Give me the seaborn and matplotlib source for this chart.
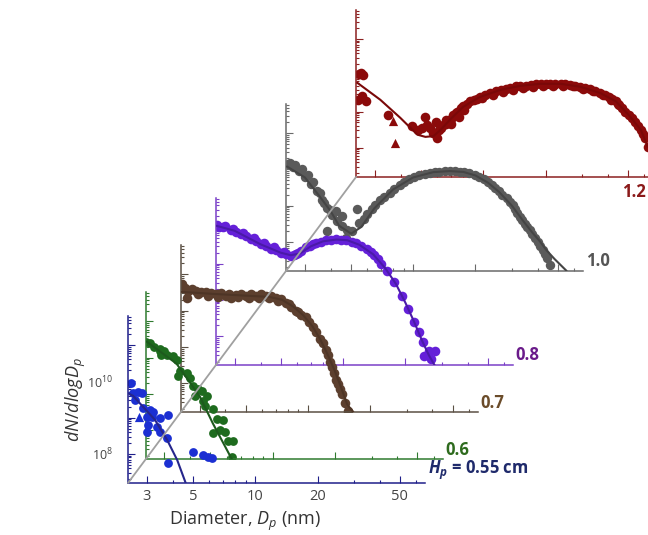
import numpy as np
import seaborn as sns
import matplotlib.pyplot as plt
from matplotlib.lines import Line2D
from matplotlib.ticker import LogLocator, FixedLocator, FuncFormatter, NullFormatter

# plate heights (cm), front to back
hp = [0.55, 0.6, 0.7, 0.8, 1.0, 1.2]
hp_labels = ['= 0.55 cm', '0.6', '0.7', '0.8', '1.0', '1.2']

# diameter (nm) and dN/dlogDp (cm^-3) for each plate height
d_055 = [2.50, 2.57, 2.71, 2.84, 2.64, 2.87, 3.10, 3.21, 3.00, 3.18, 3.47, 3.80, 3.04, 3.36, 3.00,
         3.47, 3.76, 3.80, 5.02, 5.62, 5.94, 6.20]
n_055 = [8.9e9, 4.8e9, 5.1e9, 4.8e9, 3.1e9, 1.9e9, 1.6e9, 1.4e9, 1.05e9, 1.05e9, 9.8e8, 1.2e9, 6.3e8,
         5.5e8, 4.0e8, 4.0e8, 2.8e8, 5.6e7, 1.1e8, 9.3e7, 8.3e7, 7.8e7]
tri_d_055 = [2.75]
tri_n_055 = [1.05e9]
fit_d_055 = [2.45, 2.57, 3.28, 3.76, 4.20, 4.70]
fit_n_055 = [4.6e9, 4.0e9, 8.7e8, 2.4e8, 6.8e7, 1.2e7]

d_06 = [2.44, 2.54, 2.68, 2.84, 3.00, 2.90, 3.10, 3.28, 3.43, 2.84, 3.55, 3.47, 3.84, 3.97, 4.11, 4.34,
        4.54, 4.80, 4.20, 4.60, 5.14, 4.70, 5.37, 5.74, 5.14, 5.55, 5.88, 6.08, 6.42, 6.35]
n_06 = [2.8e10, 2.5e10, 2.0e10, 1.8e10, 1.5e10, 1.2e10, 1.2e10, 1.1e10, 8.5e9, 1.5e10, 4.2e9, 3.2e9,
        3.7e9, 2.7e9, 1.7e9, 1.4e9, 1.2e9, 9.1e8, 9.1e8, 6.3e8, 4.0e8, 4.6e8, 2.1e8, 1.9e8, 8.3e7,
        1.0e8, 9.3e7, 5.0e7, 5.0e7, 1.9e7]
fit_d_06 = [2.46, 3.43, 4.44, 5.14, 6.35]
fit_n_06 = [2.8e10, 6.9e9, 8.7e8, 1.55e8, 1.6e7]

d_07 = [2.46, 2.54, 2.62, 2.65, 2.75, 2.87, 2.95, 3.05, 3.21, 3.30, 3.40, 3.59, 3.70, 3.80, 4.02,
        4.15, 4.25, 4.49, 4.62, 4.75, 5.02, 5.20, 5.31, 5.62, 5.80, 5.94, 6.28, 6.50, 6.64, 7.02,
        7.20, 7.42, 7.85, 8.10, 8.30, 8.77, 9.00, 9.27, 9.80, 10.1, 10.6, 11.0, 11.4, 11.8, 12.2,
        12.5, 12.8, 13.1, 13.4, 13.7, 14.0, 14.3, 14.6, 15.1, 15.6]
n_07 = [5.3e10, 4.2e10, 2.3e10, 3.4e10, 3.9e10, 3.6e10, 2.9e10, 3.3e10, 3.2e10, 2.6e10, 3.1e10,
        2.8e10, 2.4e10, 3.0e10, 2.6e10, 2.9e10, 2.3e10, 2.7e10, 2.4e10, 2.9e10, 2.6e10, 2.3e10,
        2.8e10, 2.6e10, 2.3e10, 2.8e10, 2.5e10, 2.2e10, 2.6e10, 2.2e10, 1.9e10, 2.1e10, 1.6e10,
        1.5e10, 1.3e10, 1.0e10, 9.0e9, 7.5e9, 6.6e9, 4.8e9, 3.5e9, 2.6e9, 1.7e9, 1.3e9, 8.1e8,
        6.0e8, 3.8e8, 2.8e8, 1.9e8, 1.2e8, 9.3e7, 7.0e7, 5.0e7, 2.8e7, 1.7e7]
fit_d_07 = [2.45, 3.5, 5.0, 6.5, 7.5, 8.5, 9.5, 10.5, 11.5, 12.5, 13.5, 14.5, 15.5, 16.6]
fit_n_07 = [3.3e10, 2.9e10, 2.6e10, 2.4e10, 2.0e10, 1.3e10, 7.5e9, 3.8e9, 1.6e9, 6.0e8, 2.2e8,
            7.5e7, 2.6e7, 1.6e7]

d_08 = [2.46, 2.52, 2.62, 2.70, 2.87, 2.95, 3.05, 3.21, 3.30, 3.40, 3.59, 3.70, 3.80, 4.02, 4.15,
        4.25, 4.49, 4.62, 4.75, 5.02, 5.20, 5.31, 5.62, 5.80, 5.94, 6.08, 6.28, 6.64, 6.94, 7.20,
        7.42, 7.85, 8.30, 8.77, 9.27, 9.80, 10.4, 11.0, 11.6, 12.2, 13.0, 13.6, 14.2, 14.8, 15.3,
        16.4, 17.7, 19.2, 20.7, 22.1, 23.4, 24.3, 25.9, 26.5, 24.5, 27.7]
n_08 = [1.15e11, 1.05e11, 1.0e11, 1.1e11, 8.3e10, 9.0e10, 7.5e10, 6.5e10, 7.0e10, 5.8e10, 4.7e10,
        5.0e10, 4.2e10, 3.4e10, 3.7e10, 3.1e10, 2.6e10, 2.8e10, 2.3e10, 2.0e10, 2.1e10, 1.8e10,
        1.6e10, 1.7e10, 1.8e10, 1.9e10, 2.2e10, 2.8e10, 3.1e10, 3.4e10, 3.6e10, 4.0e10, 4.4e10,
        4.6e10, 4.7e10, 4.6e10, 4.4e10, 4.0e10, 3.6e10, 3.1e10, 2.6e10, 2.1e10, 1.7e10, 1.3e10,
        1.0e10, 6.2e9, 3.1e9, 1.25e9, 5.5e8, 2.4e8, 1.3e8, 6.8e7, 3.9e7, 2.3e7, 2.8e7, 3.9e7]
fit_d_08 = [2.45, 3.0, 4.0, 5.0, 5.6, 6.2, 7.0, 8.0, 9.3, 10.5, 12, 14, 16, 18, 20, 22, 24, 26, 27.7]
fit_n_08 = [1.1e11, 8e10, 3.4e10, 2.0e10, 1.7e10, 1.9e10, 3.0e10, 4.1e10, 4.6e10, 4.4e10, 3.3e10,
            1.8e10, 7.5e9, 2.8e9, 8.5e8, 2.6e8, 8.0e7, 3.0e7, 1.6e7]

d_10 = [2.49, 2.55, 2.62, 2.70, 2.81, 2.90, 3.01, 3.10, 3.21, 3.30, 3.43, 3.55, 3.63, 3.72, 3.84,
        3.84, 3.95, 4.06, 4.25, 4.30, 4.54, 4.54, 4.75, 4.80, 5.07, 5.37, 5.50, 5.82, 6.00, 6.30,
        6.57, 6.90, 7.27, 7.70, 8.12, 8.60, 9.07, 9.60, 10.1, 10.7, 11.4, 12.0, 12.7, 13.4, 14.2,
        15.0, 15.9, 16.8, 17.7, 18.7, 19.8, 20.9, 22.1, 23.0, 24.0, 24.9, 25.9, 27.0, 28.3, 29.3,
        30.3, 31.1, 31.9, 32.8, 33.7, 34.6, 35.6, 36.6, 37.7, 38.8, 39.9, 41.1, 42.3, 43.2, 44.1,
        46.0]
n_10 = [1.4e10, 1.5e10, 1.2e10, 1.3e10, 8.9e9, 1.0e10, 6.2e9, 7.0e9, 4.0e9, 4.6e9, 2.5e9, 2.2e9,
        1.4e9, 1.2e9, 8.7e8, 2.0e8, 7.5e8, 5.5e8, 7.1e8, 3.8e8, 2.8e8, 5.2e8, 1.3e8, 2.1e8, 2.0e8,
        8.1e8, 3.3e8, 4.3e8, 5.9e8, 8.0e8, 1.05e9, 1.4e9, 1.7e9, 2.3e9, 2.9e9, 3.7e9, 4.5e9, 5.4e9,
        6.2e9, 6.8e9, 7.4e9, 8.0e9, 8.5e9, 8.7e9, 8.9e9, 9.0e9, 8.9e9, 8.7e9, 8.5e9, 7.8e9, 6.9e9,
        6.2e9, 5.4e9, 4.5e9, 3.7e9, 3.1e9, 2.5e9, 2.0e9, 1.6e9, 1.3e9, 1.05e9, 8.0e8, 6.3e8, 5.0e8,
        4.0e8, 3.2e8, 2.6e8, 2.1e8, 1.7e8, 1.3e8, 1.0e8, 7.8e7, 6.0e7, 4.6e7, 3.6e7, 2.3e7]
fit_d_10 = [2.46, 3.0, 3.51, 4.0, 4.39, 5.02, 5.62, 6.5, 8.0, 10.0, 12.5, 15.0, 17.5, 20.0, 23.0,
            26.0, 30.0, 34.0, 37.7, 40.8, 44.0, 48.2, 55.1]
fit_n_10 = [1.2e10, 6.0e9, 1.9e9, 7.0e8, 2.8e8, 1.7e8, 2.6e8, 8.5e8, 2.8e9, 6.0e9, 8.4e9, 9.0e9,
            8.5e9, 6.8e9, 4.3e9, 2.4e9, 1.0e9, 3.8e8, 1.8e8, 1.07e8, 6.0e7, 3.4e7, 1.6e7]

d_12 = [2.51, 2.62, 2.56, 2.48, 2.59, 2.71, 3.47, 4.54, 4.84, 5.25, 5.37, 5.55, 5.74, 5.99, 5.07,
        5.90, 6.10, 6.21, 6.40, 6.57, 6.75, 6.94, 7.10, 7.34, 7.50, 7.76, 8.00, 8.30, 8.60, 8.97,
        9.30, 9.60, 10.2, 10.8, 11.5, 12.2, 12.8, 13.5, 14.3, 15.1, 16.0, 16.9, 17.9, 18.9, 20.0,
        21.1, 22.3, 23.6, 24.9, 26.3, 27.8, 29.4, 31.1, 32.9, 34.8, 36.8, 38.6, 40.4, 42.0, 43.7,
        45.3, 46.9, 48.6, 50.3, 52.1, 53.9, 55.8, 57.7, 59.0, 60.3, 62.2, 7.0, 7.6, 8.1, 6.6,
        9.9, 11.1, 12.5, 13.9, 15.5, 17.4, 19.4, 21.7, 24.2, 27.0, 30.2, 33.8, 37.7, 41.2, 44.5]
n_12 = [1.1e10, 1.0e10, 1.15e10, 2.1e9, 2.7e9, 1.9e9, 8.1e8, 4.0e8, 3.1e8, 7.1e8, 4.3e8, 3.5e8,
        2.6e8, 1.9e8, 3.5e8, 5.0e8, 3.0e8, 3.5e8, 4.2e8, 4.6e8, 5.5e8, 6.3e8, 8.0e8, 9.1e8, 1.0e9,
        1.25e9, 1.4e9, 1.6e9, 1.9e9, 2.1e9, 2.2e9, 2.5e9, 2.9e9, 3.2e9, 3.7e9, 4.0e9, 4.3e9, 4.5e9,
        4.9e9, 5.1e9, 5.2e9, 5.4e9, 5.6e9, 5.8e9, 5.8e9, 5.8e9, 5.9e9, 5.8e9, 5.6e9, 5.4e9, 5.1e9,
        4.8e9, 4.5e9, 4.2e9, 3.7e9, 3.2e9, 2.9e9, 2.5e9, 2.2e9, 1.9e9, 1.55e9, 1.25e9, 1.0e9,
        8.1e8, 6.5e8, 5.2e8, 4.0e8, 3.1e8, 2.4e8, 1.9e8, 1.07e8, 4.5e8, 7.0e8, 1.1e9, 6.0e8,
        2.3e9, 2.8e9, 3.5e9, 4.0e9, 4.4e9, 4.8e9, 5.0e9, 5.1e9, 5.2e9, 4.9e9, 4.3e9, 3.6e9,
        2.8e9, 2.1e9, 1.6e9]
tri_d_12 = [3.67, 3.76]
tri_n_12 = [5.5e8, 1.4e8]
fit_d_12 = [2.46, 3.18, 3.97, 4.8, 5.25, 5.74, 6.21, 7.0, 8.0, 9.6, 12.2, 15.1, 18.9, 23.6, 29.4,
            36.8, 43.7, 50.3, 57.7, 62.2]
fit_n_12 = [6.2e9, 2.1e9, 6.7e8, 2.3e8, 2.0e8, 2.1e8, 3.1e8, 6.5e8, 1.35e9, 2.5e9, 4.0e9, 5.1e9,
            5.8e9, 5.8e9, 4.8e9, 3.2e9, 1.9e9, 8.1e8, 3.1e8, 1.07e8]

point_colors = ['#1b2fd2', '#1e6b1e', '#5c3f2e', '#6420d8', '#5a5a5a', '#8b0a0a']
line_colors = ['#26268c', '#1d5a1d', '#4e3526', '#4a1aa8', '#454545', '#7a0808']
spine_colors = ['#1f1f8a', '#2f7a2f', '#5b5044', '#7a40c8', '#6a6a6a', '#8b2020']
label_colors = ['#1f2a6b', '#2e6b1e', '#6b4c2a', '#6a1b8a', '#555555', '#8b1a1a']
point_sizes = [40, 40, 48, 48, 46, 48]

points_d = [d_055, d_06, d_07, d_08, d_10, d_12]
points_n = [n_055, n_06, n_07, n_08, n_10, n_12]
fits_d = [fit_d_055, fit_d_06, fit_d_07, fit_d_08, fit_d_10, fit_d_12]
fits_n = [fit_n_055, fit_n_06, fit_n_07, fit_n_08, fit_n_10, fit_n_12]
tris = {0: (tri_d_055, tri_n_055), 5: (tri_d_12, tri_n_12)}

sns.set_style("white")
plt.rcParams['font.family'] = ['Open Sans', 'DejaVu Sans']
plt.rcParams['mathtext.fontset'] = 'custom'
plt.rcParams['mathtext.rm'] = 'Open Sans'
plt.rcParams['mathtext.it'] = 'Open Sans:italic'
plt.rcParams['mathtext.bf'] = 'Open Sans:bold'
has_bfit = 'mathtext.bfit' in plt.rcParams
if has_bfit:
    plt.rcParams['mathtext.bfit'] = 'Open Sans:italic:bold'

FW, FH = 648, 535
fig = plt.figure(figsize=(FW / 100, FH / 100), dpi=100)

# waterfall layout: each layer shifted along a depth axis proportional to Hp
x0, y0 = 128, 483
sx, sy = 351, 471
w, h = 297, 167


def origin(height):
    return x0 + sx * (height - hp[0]), y0 - sy * (height - hp[0])


for i in reversed(range(len(hp))):
    ox, oy = origin(hp[i])
    ax = fig.add_axes([ox / FW, 1 - oy / FH, w / FW, h / FH])
    ax.patch.set_alpha(0)
    ax.set_xscale('log')
    ax.set_yscale('log')

    sns.scatterplot(x=points_d[i], y=points_n[i], ax=ax, color=point_colors[i], s=point_sizes[i],
                    linewidth=0, zorder=2)
    if i in tris:
        sns.scatterplot(x=tris[i][0], y=tris[i][1], ax=ax, color=point_colors[i], s=44,
                        marker='^', linewidth=0, zorder=2)
    sns.lineplot(x=fits_d[i], y=fits_n[i], ax=ax, color=line_colors[i], lw=1.5,
                 sort=False, estimator=None, zorder=3)

    ax.set_xlim(2.43, 66.1)
    ax.set_ylim(10 ** 7.2, 10 ** 11.8)
    for s in ['top', 'right']:
        ax.spines[s].set_visible(False)
    for s in ['left', 'bottom']:
        ax.spines[s].set_color(spine_colors[i])
        ax.spines[s].set_linewidth(1.1)

    ax.xaxis.set_major_locator(FixedLocator([3, 5, 10, 20, 50]))
    ax.xaxis.set_minor_locator(LogLocator(base=10, subs=np.arange(2, 10), numticks=20))
    ax.yaxis.set_major_locator(LogLocator(base=10, numticks=20))
    ax.yaxis.set_minor_locator(LogLocator(base=10, subs=np.arange(2, 10), numticks=20))
    ax.xaxis.set_minor_formatter(NullFormatter())
    ax.yaxis.set_minor_formatter(NullFormatter())
    ax.tick_params(which='both', direction='in', color=spine_colors[i], width=0.8,
                   bottom=True, left=True, top=False, right=False)
    ax.tick_params(which='major', length=5)
    ax.tick_params(which='minor', length=2.5)

    if i == 0:
        ax.xaxis.set_major_formatter(FuncFormatter(lambda v, p: '%d' % v))
        ax.yaxis.set_major_formatter(FuncFormatter(
            lambda v, p: r'$10^{%d}$' % round(np.log10(v)) if round(np.log10(v)) in (8, 10) else ''))
        ax.tick_params(axis='x', labelsize=10.5, labelcolor='#444444', pad=4)
        ax.tick_params(axis='y', labelsize=9, labelcolor='#444444', pad=11)
        hp_tag = r'$\mathbfit{H_p}$ ' if has_bfit else r'$\mathit{H_p}$ '
        ax.text(1.01, 0.005, hp_tag + hp_labels[i], transform=ax.transAxes, ha='left', va='bottom',
                fontsize=12, fontweight='bold', color=label_colors[i])
    else:
        ax.set_xticklabels([])
        ax.yaxis.set_major_formatter(NullFormatter())
        if i == 5:
            ax.text(0.895, -0.035, hp_labels[i], transform=ax.transAxes, ha='left', va='top',
                    fontsize=12, fontweight='bold', color=label_colors[i])
        else:
            ax.text(1.01, 0.005, hp_labels[i], transform=ax.transAxes, ha='left', va='bottom',
                    fontsize=12, fontweight='bold', color=label_colors[i])
    ax.set_xlabel('')
    ax.set_ylabel('')

# depth axis joining the layer origins
(ax0, ay0), (ax1, ay1) = origin(hp[0]), origin(hp[-1])
fig.add_artist(Line2D([ax0 / FW, ax1 / FW], [1 - ay0 / FH, 1 - ay1 / FH],
                      transform=fig.transFigure, color='#a0a0a0', lw=1.3, zorder=5))

fig.text(245 / FW, 1 - 521 / FH, r'Diameter, $D_p$ (nm)', ha='center', va='center',
         fontsize=13, color='#333333')
fig.text(76 / FW, 1 - 400 / FH, r'$dN/dlogD_p$', ha='center', va='center', rotation=90,
         fontsize=13, color='#333333')

fig.savefig('out.png', dpi=100)
